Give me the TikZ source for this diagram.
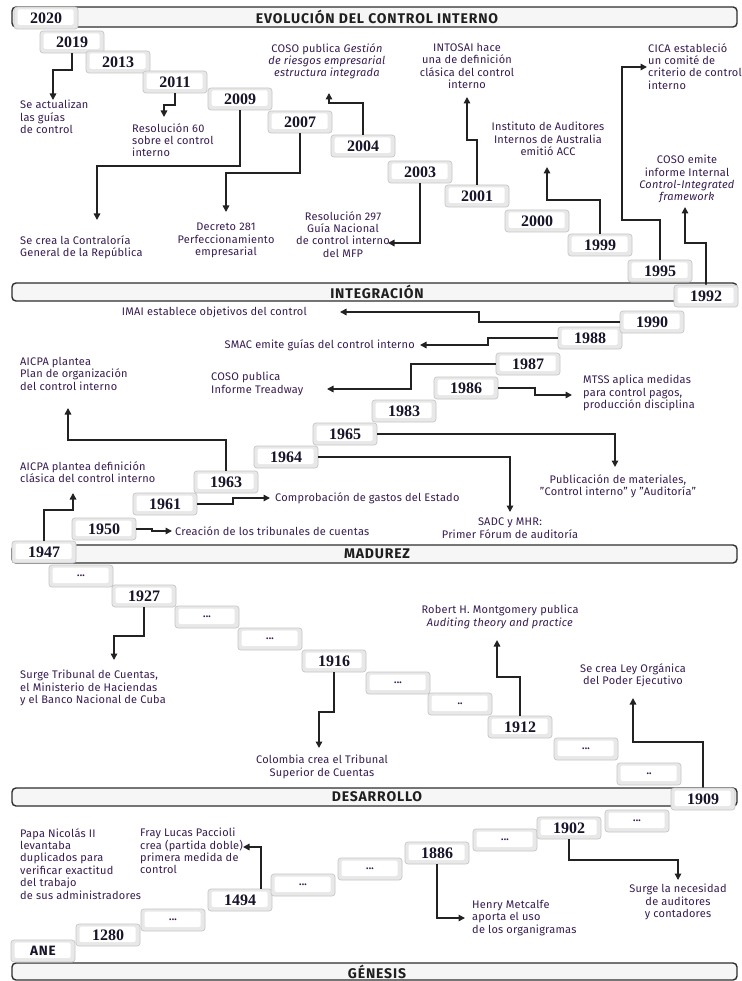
\documentclass[tikz,border=0pt]{standalone}
\usepackage{fontspec}
\setmainfont{Fira Sans}[LetterSpace=2]
\newfontfamily\titlefont{Fira Sans}[LetterSpace=6]
\newfontfamily\yearfont{Liberation Serif}
\usetikzlibrary{arrows.meta}
\definecolor{txtcol}{RGB}{55,28,82}
\definecolor{yearcol}{RGB}{24,20,42}
\definecolor{linecol}{RGB}{34,34,34}
\begin{document}
\begin{tikzpicture}[x=1pt,y=-1pt,
  bar/.style={draw=black!82, line width=1.4pt, fill=gray!7, rounded corners=4pt,
    minimum width=725pt, inner sep=0pt,
    font=\titlefont\fontsize{14}{16}\selectfont\bfseries, text=black!88},
  ybox/.style={minimum width=64pt, minimum height=22pt, inner sep=0pt,
    rounded corners=3pt, draw=gray!45, line width=0.7pt, fill=gray!18,
    path picture={\fill[white, rounded corners=1.5pt]
      ([xshift=3.5pt,yshift=-2.5pt]path picture bounding box.north west) rectangle
      ([xshift=-4.5pt,yshift=4pt]path picture bounding box.south east);},
    font=\yearfont\fontsize{16}{18}\selectfont\bfseries, text=yearcol},
  dbox/.style={ybox, font=\fontsize{10}{12}\selectfont\bfseries, text=txtcol},
  abox/.style={ybox, font=\titlefont\fontsize{13.5}{16}\selectfont\bfseries, text=yearcol},
  lbl/.style={font=\fontsize{11}{12.4}\selectfont, text=txtcol, inner sep=0pt},
  arr/.style={draw=linecol, line width=1.5pt, -{Triangle[length=6.5pt,width=6.5pt]}},
]
\useasboundingbox (0,0) rectangle (741,981);
\fill[white] (0,0) rectangle (741,981);

% ---------- section bars ----------
\node[bar, minimum height=20pt] (bEvo) at (374.5,17) {\hspace*{5pt}EVOLUCIÓN DEL CONTROL INTERNO};
\node[bar, minimum height=18pt] (bInt) at (374.5,292) {\hspace*{5pt}INTEGRACIÓN};
\node[bar, minimum height=18pt] (bMad) at (374.5,554) {\hspace*{5pt}MADUREZ};
\node[bar, minimum height=18pt] (bDes) at (374.5,797) {\hspace*{5pt}DESARROLLO};
\node[bar, minimum height=17pt] (bGen) at (374.5,971.5) {\hspace*{5pt}GÉNESIS};

% ---------- arrow end points ----------
\coordinate (a2019) at (53,100);
\coordinate (a2011) at (164,117);
\coordinate (a2009) at (97,220);
\coordinate (a2007) at (226,212);
\coordinate (a2004) at (329,93);
\coordinate (a2003) at (388,243);
\coordinate (a2001) at (467,97);
\coordinate (a1999) at (547,167);
\coordinate (a1995) at (647,67);
\coordinate (a1992) at (685,207);
\coordinate (a1990) at (340,312);
\coordinate (a1988) at (420,345);
\coordinate (a1987) at (327,389);
\coordinate (a1986) at (572,395);
\coordinate (a1965) at (615,467);
\coordinate (a1964) at (510,512);
\coordinate (a1963) at (68,408);
\coordinate (a1961) at (270,498);
\coordinate (a1950) at (172,531);
\coordinate (a1947) at (73,493);
\coordinate (a1927) at (114,660);
\coordinate (a1916) at (319,748);
\coordinate (a1912) at (497,640);
\coordinate (a1909) at (633,698);
\coordinate (a1902) at (678,880);
\coordinate (a1886) at (465,918);
\coordinate (a1494) at (243,847);

% ---------- year boxes ----------
\node[ybox] (y2020) at (46,18) {2020};
\node[ybox] (y2019) at (72,42) {2019};
\node[ybox] (y2013) at (118,62) {2013};
\node[ybox] (y2011) at (175,82) {2011};
\node[ybox] (y2009) at (240,99) {2009};
\node[ybox] (y2007) at (300,122) {2007};
\node[ybox] (y2004) at (363,146) {2004};
\node[ybox] (y2003) at (420,172) {2003};
\node[ybox] (y2001) at (477,196) {2001};
\node[ybox] (y2000) at (537,221) {2000};
\node[ybox] (y1999) at (600,245) {1999};
\node[ybox] (y1995) at (660,271) {1995};

\node[ybox] (y1947) at (44,552) {1947};
\node[ybox] (y1950) at (104,529) {1950};
\node[ybox] (y1961) at (165,504) {1961};
\node[ybox] (y1963) at (226,482) {1963};
\node[ybox] (y1964) at (286,457) {1964};
\node[ybox] (y1965) at (345,434) {1965};
\node[ybox] (y1983) at (404,411) {1983};
\node[ybox] (y1986) at (466,388) {1986};
\node[ybox] (y1987) at (528,364) {1987};
\node[ybox] (y1988) at (590,338) {1988};
\node[ybox] (y1990) at (652,322) {1990};

\node[dbox] (m1) at (81,576) {...};
\node[ybox] (y1927) at (144,596) {1927};
\node[dbox] (m3) at (207,617) {...};
\node[dbox] (m4) at (270,639) {...};
\node[ybox] (y1916) at (334,661) {1916};
\node[dbox] (m6) at (398,683) {...};
\node[dbox] (m7) at (460,704) {..};
\node[ybox] (y1912) at (520,727) {1912};
\node[dbox] (m9) at (586,749) {...};
\node[dbox] (m10) at (649,774) {..};

\node[abox] (yANE) at (43,951) {ANE};
\node[ybox] (y1280) at (108,935) {1280};
\node[dbox] (d8) at (173,920) {...};
\node[ybox] (y1494) at (240,900) {1494};
\node[dbox] (d6) at (303,885) {...};
\node[dbox] (d5) at (370,869) {...};
\node[ybox] (y1886) at (437,853) {1886};
\node[dbox] (d3) at (505,840) {...};
\node[ybox] (y1902) at (569,828) {1902};
\node[dbox] (d1) at (637,821) {...};

% ---------- connectors ----------
\draw[arr] (y2019.south) |- (53,70) -- (a2019);
\draw[arr] (y2011.south) |- (164,105) -- (a2011);
\draw[arr] (y2009.south) |- (97,166) -- (a2009);
\draw[arr] (y2007.south) |- (226,173) -- (a2007);
\draw[arr] (y2004.north) |- (329,103) -- (a2004);
\draw[arr] (y2003.south) |- (a2003);
\draw[arr] (y2001.north) |- (467,140) -- (a2001);
\draw[arr] (y1999.north) |- (547,200) -- (a1999);
\draw[arr] (y1995.north) |- (622,220) |- (a1995);
\draw[arr] (706,285) |- (685,243) -- (a1992);
\draw[arr] (y1990.west) -| (479,312) -- (a1990);
\draw[arr] (y1988.west) -| (488,345) -- (a1988);
\draw[arr] (y1987.west) -| (411,389) -- (a1987);
\draw[arr] (y1986.east) -| (535,395) -- (a1986);
\draw[arr] (y1965.east) -| (a1965);
\draw[arr] (y1964.east) -| (a1964);
\draw[arr] (y1963.north) |- (68,440) -- (a1963);
\draw[arr] (y1961.east) -| (233,498) -- (a1961);
\draw[arr] (y1950.east) -| (152,531) -- (a1950);
\draw[arr] (y1947.north) |- (73,510) -- (a1947);
\draw[arr] (y1927.south) |- (114,636) -- (a1927);
\draw[arr] (y1916.south) |- (319,712) -- (a1916);
\draw[arr] (y1912.north) |- (497,677) -- (a1912);
\draw[arr] (703,788) |- (633,742) -- (a1909);
\draw[arr] (y1902.south) |- (678,860) -- (a1902);
\draw[arr] (y1886.south) |- (a1886);
\draw[arr] ([xshift=21pt]y1494.north) |- (a1494);

% boxes sitting on the bars (drawn over connectors)
\node[ybox] (y1992) at (706,296) {1992};
\node[ybox] (y1909) at (703,799) {1909};

% ---------- labels ----------
\node[lbl, anchor=north west, align=left] (t2019) at (20,100) {Se actualizan\\las guías\\de control};
\node[lbl, anchor=north west, align=left] (t2011) at (132,123) {Resolución 60\\sobre el control\\interno};
\node[lbl, anchor=north west, align=left] (t2009) at (20,235) {Se crea la Contraloría\\General de la República};
\node[lbl, anchor=north, align=center] (t2007) at (226,223) {Decreto 281\\Perfeccionamiento\\empresarial};
\node[lbl, anchor=north, align=center] (t2004) at (327,43) {COSO publica \textit{Gestión}\\\textit{de riesgos empresarial}\\\textit{estructura integrada}};
\node[lbl, anchor=north, align=center] (t2003) at (343,211) {Resolución 297\\Guía Nacional\\de control interno\\del MFP};
\node[lbl, anchor=north, align=center] (t2001) at (467,43) {INTOSAI hace\\una de definición\\clásica del control\\interno};
\node[lbl, anchor=north, align=center] (t1999) at (548,122) {Instituto de Auditores\\Internos de Australia\\emitió ACC};
\node[lbl, anchor=north west, align=left] (t1995) at (648,43) {CICA estableció\\un comité de\\criterio de control\\interno};
\node[lbl, anchor=north, align=center] (t1992) at (687,155) {COSO emite\\informe Internal\\\textit{Control-Integrated}\\\textit{framework}};

\node[lbl, anchor=east] (t1990) at (307,312) {IMAI establece objetivos del control};
\node[lbl, anchor=east] (t1988) at (415,345) {SMAC emite guías del control interno};
\node[lbl, anchor=north west, align=left] (t1987) at (211,372) {COSO publica\\Informe Treadway};
\node[lbl, anchor=north west, align=left] (t1986) at (583,375) {MTSS aplica medidas\\para control pagos,\\producción disciplina};
\node[lbl, anchor=north west, align=left] (t1963) at (20,357) {AICPA plantea\\Plan de organización\\del control interno};
\node[lbl, anchor=north, align=center] (t1965) at (618,474) {Publicación de materiales,\\"Control interno" y "Auditoría"};
\node[lbl, anchor=north, align=center] (t1964) at (510,518) {SADC y MHR:\\Primer Fórum de auditoría};
\node[lbl, anchor=west] (t1961) at (275,498) {Comprobación de gastos del Estado};
\node[lbl, anchor=west] (t1950) at (175,531) {Creación de los tribunales de cuentas};
\node[lbl, anchor=north west, align=left] (t1947) at (20,461) {AICPA plantea definición\\clásica del control interno};

\node[lbl, anchor=north west, align=left] (t1927) at (20,670) {Surge Tribunal de Cuentas,\\el Ministerio de Haciendas\\y el Banco Nacional de Cuba};
\node[lbl, anchor=north, align=center] (t1916) at (322,755) {Colombia crea el Tribunal\\Superior de Cuentas};
\node[lbl, anchor=north, align=center] (t1912) at (500,605) {Robert H. Montgomery publica\\\textit{Auditing theory and practice}};
\node[lbl, anchor=north, align=center] (t1909) at (633,663) {Se crea Ley Orgánica\\del Poder Ejecutivo};

\node[lbl, anchor=north, align=center] (t1902) at (678,884) {Surge la necesidad\\de auditores\\y contadores};
\node[lbl, anchor=north west, align=left] (t1886) at (472,900) {Henry Metcalfe\\aporta el uso\\de los organigramas};
\node[lbl, anchor=north west, align=left] (t1494) at (140,828) {Fray Lucas Paccioli\\crea (partida doble)\\primera medida de\\control};
\node[lbl, anchor=north west, align=left] (tANE) at (20,828) {Papa Nicolás II\\levantaba\\duplicados para\\verificar exactitud\\del trabajo\\de sus administradores};
\end{tikzpicture}
\end{document}
